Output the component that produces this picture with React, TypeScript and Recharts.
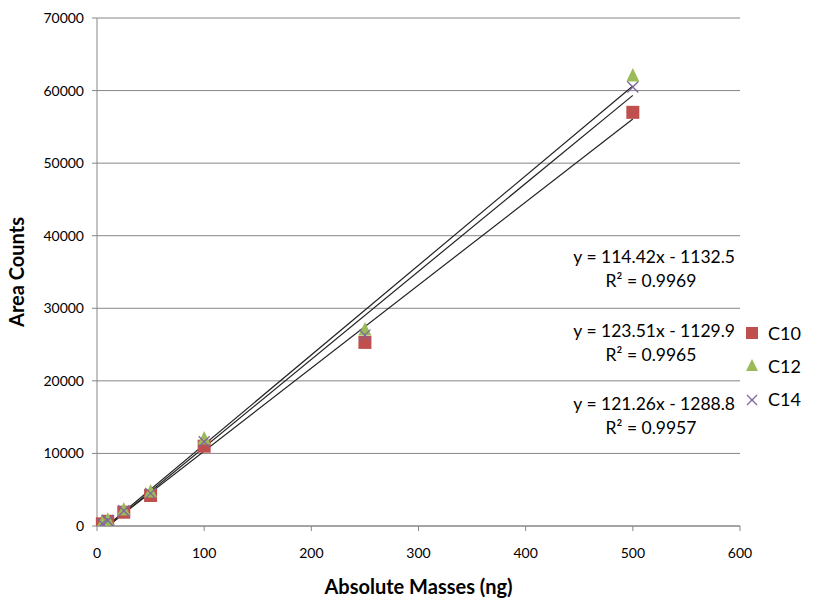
import React from "react";
import { ScatterChart, Scatter, XAxis, YAxis, CartesianGrid } from "recharts";

// masses (ng) and area counts
const MASSES = [5, 10, 25, 50, 100, 250, 500];
const C10 = [300, 650, 1900, 4200, 11000, 25300, 57000];
const C12 = [350, 800, 2200, 4700, 12000, 27000, 62000];
const C14 = [330, 750, 2100, 4500, 11600, 26300, 60500];

// trendline end points (Excel linear fits, as shown in the chart)
const TREND_C10 = [{ x: 5, y: -560 }, { x: 500, y: 56078 }];
const TREND_C12 = [{ x: 5, y: -512 }, { x: 500, y: 60625 }];
const TREND_C14 = [{ x: 5, y: -682 }, { x: 500, y: 59341 }];

const EQUATIONS = [
  { eq: "y = 114.42x - 1132.5", r2: "R² = 0.9969" },
  { eq: "y = 123.51x - 1129.9", r2: "R² = 0.9965" },
  { eq: "y = 121.26x - 1288.8", r2: "R² = 0.9957" },
];

const X_TICKS = [0, 100, 200, 300, 400, 500, 600];
const Y_TICKS = [0, 10000, 20000, 30000, 40000, 50000, 60000, 70000];

const RED = "#C0504D";
const GREEN = "#9BBB59";
const PURPLE = "#8064A2";
const AXIS = "#868686";
const FONT = "Lato, 'Open Sans', sans-serif";

const toPoints = (ys: number[]) => MASSES.map((x, i) => ({ x, y: ys[i] }));

const Square = (p: any) => <rect x={p.cx - 6.5} y={p.cy - 6.5} width={13} height={13} fill={RED} />;
const Tri = (p: any) => (
  <polygon points={`${p.cx},${p.cy - 8} ${p.cx + 6.5},${p.cy + 5.5} ${p.cx - 6.5},${p.cy + 5.5}`} fill={GREEN} />
);
const Cross = (p: any) => (
  <path d={`M${p.cx - 5.5},${p.cy - 5.5}L${p.cx + 5.5},${p.cy + 5.5}M${p.cx + 5.5},${p.cy - 5.5}L${p.cx - 5.5},${p.cy + 5.5}`}
    stroke={PURPLE} strokeWidth={1.3} fill="none" />
);
const NoDot = () => <g />;

const LegendItems = () => (
  <g fontFamily={FONT} fontSize={18} fill="#000">
    <rect x={746} y={327} width={12} height={12} fill={RED} />
    <text x={768} y={340}>C10</text>
    <polygon points="752,359 758,371 746,371" fill={GREEN} />
    <text x={768} y={373}>C12</text>
    <path d="M747,395L757,405M757,395L747,405" stroke={PURPLE} strokeWidth={1.3} />
    <text x={768} y={406}>C14</text>
  </g>
);

export default function App() {
  return (
    <div>
      <style>{`body{margin:0}`}</style>
      <ScatterChart width={825} height={598} margin={{ top: 18, right: 85, bottom: 42, left: 37 }}
        style={{ background: "#fff" }}>
        <CartesianGrid vertical={false} stroke={AXIS} strokeDasharray="" />
        <XAxis type="number" dataKey="x" domain={[0, 600]} ticks={X_TICKS} stroke={AXIS}
          tick={{ fill: "#000", fontSize: 14, fontFamily: FONT }} tickSize={5} tickMargin={17} height={30}
          label={{ value: "Absolute Masses (ng)", position: "insideBottom", offset: -38,
            style: { fontFamily: FONT, fontWeight: 700, fontSize: 20, fill: "#000" } }} />
        <YAxis type="number" dataKey="y" domain={[0, 70000]} ticks={Y_TICKS} allowDataOverflow stroke={AXIS}
          tick={{ fill: "#000", fontSize: 14, fontFamily: FONT }} tickSize={5} tickMargin={8} width={60}
          label={{ value: "Area Counts", angle: -90, position: "insideLeft", offset: -20,
            style: { textAnchor: "middle", fontFamily: FONT, fontWeight: 700, fontSize: 20, fill: "#000" } }} />
        <Scatter name="T10" data={TREND_C10} line={{ stroke: "#222", strokeWidth: 1.2 }} shape={NoDot}
          legendType="none" isAnimationActive={false} />
        <Scatter name="T12" data={TREND_C12} line={{ stroke: "#222", strokeWidth: 1.2 }} shape={NoDot}
          legendType="none" isAnimationActive={false} />
        <Scatter name="T14" data={TREND_C14} line={{ stroke: "#222", strokeWidth: 1.2 }} shape={NoDot}
          legendType="none" isAnimationActive={false} />
        <Scatter name="C10" data={toPoints(C10)} shape={Square} isAnimationActive={false} />
        <Scatter name="C12" data={toPoints(C12)} shape={Tri} isAnimationActive={false} />
        <Scatter name="C14" data={toPoints(C14)} shape={Cross} isAnimationActive={false} />
        {EQUATIONS.map((e, i) => (
          <g key={e.eq} fontFamily={FONT} fontSize={17.5} fill="#000">
            <text x={735} y={263 + i * 73.5} textAnchor="end">{e.eq}</text>
            <text x={651} y={287 + i * 73.5} textAnchor="middle">{e.r2}</text>
          </g>
        ))}
        <LegendItems />
      </ScatterChart>
    </div>
  );
}
